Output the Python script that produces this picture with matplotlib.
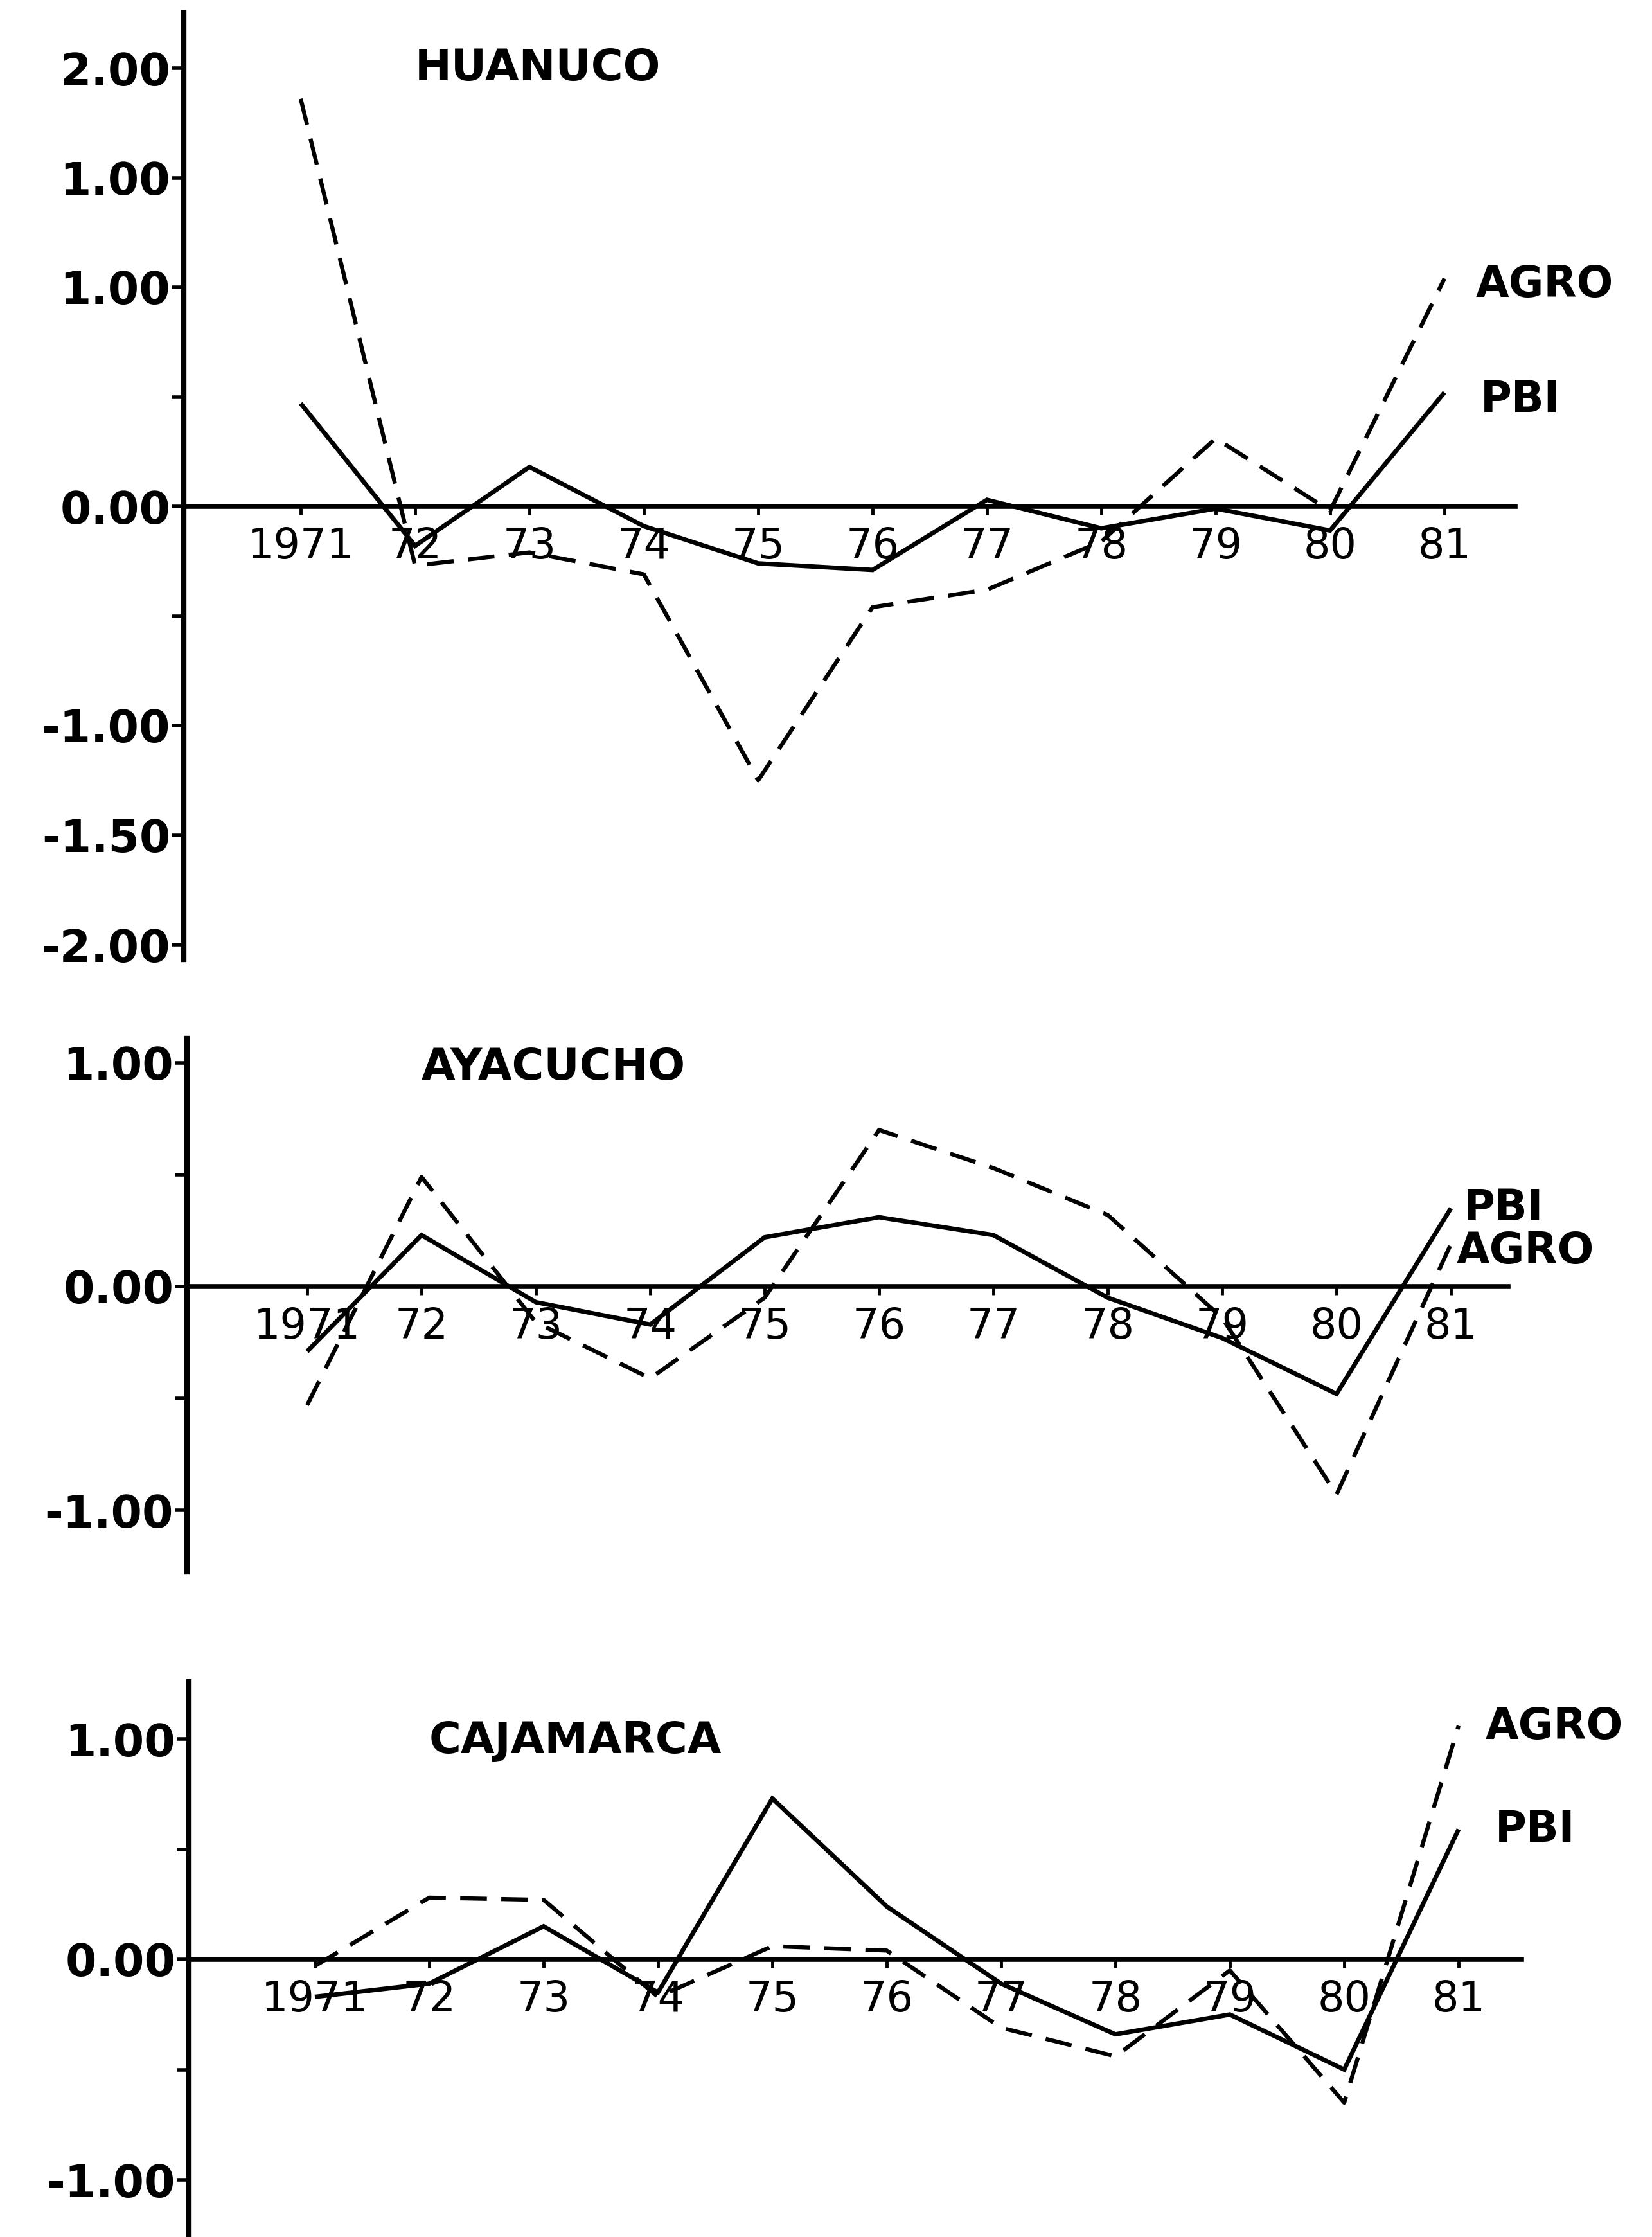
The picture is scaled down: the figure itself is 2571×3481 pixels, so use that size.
import matplotlib
matplotlib.use('Agg')
import matplotlib.pyplot as plt

plt.rcParams['font.family'] = ['DejaVu Sans']

years = ['1971', '72', '73', '74', '75', '76', '77', '78', '79', '80', '81']

huanuco_pbi = [0.47, -0.18, 0.18, -0.09, -0.26, -0.29, 0.03, -0.10, -0.01, -0.11, 0.52]
huanuco_agro = [1.86, -0.27, -0.21, -0.31, -1.25, -0.46, -0.38, -0.16, 0.31, -0.02, 1.04]

ayacucho_pbi = [-0.29, 0.23, -0.07, -0.17, 0.22, 0.31, 0.23, -0.05, -0.23, -0.48, 0.35]
ayacucho_agro = [-0.53, 0.49, -0.16, -0.41, -0.05, 0.70, 0.53, 0.32, -0.14, -0.93, 0.19]

cajamarca_pbi = [-0.17, -0.11, 0.15, -0.15, 0.73, 0.24, -0.11, -0.34, -0.25, -0.50, 0.59]
cajamarca_agro = [-0.03, 0.28, 0.27, -0.17, 0.06, 0.04, -0.31, -0.44, -0.05, -0.65, 1.06]

# the original scan labels 1.50 as "1.00", kept as printed
huanuco_yticks = [2.0, 1.5, 1.0, 0.0, -1.0, -1.5, -2.0]
huanuco_yticklabels = ['2.00', '1.00', '1.00', '0.00', '-1.00', '-1.50', '-2.00']
huanuco_minor = [0.5, -0.5]

small_yticks = [1.0, 0.0, -1.0]
small_yticklabels = ['1.00', '0.00', '-1.00']
small_minor = [0.5, -0.5]

W, H = 2571, 3481
STEP = 178.0  # pixels between years


def draw_panel(fig, spine_x, x0, top, bottom, zero, per_unit, name, title_y,
               pbi, agro, yticks, yticklabels, minor, pbi_off, agro_off, base_end):
    ax = fig.add_axes([spine_x / W, 1 - bottom / H, (W - spine_x) / W, (bottom - top) / H])
    ax.set_xlim((spine_x - x0) / STEP, (W - x0) / STEP)
    ax.set_ylim(-(bottom - zero) / per_unit, (zero - top) / per_unit)

    x = list(range(len(years)))
    ax.plot(x, pbi, color='black', lw=5.0, solid_joinstyle='miter', solid_capstyle='butt')
    ax.plot(x, agro, color='black', lw=4.6, linestyle=(0, (6.5, 3.5)), dash_capstyle='butt')

    for side in ['top', 'right']:
        ax.spines[side].set_visible(False)
    ax.spines['left'].set_linewidth(6.0)
    ax.spines['bottom'].set_position(('data', 0))
    ax.spines['bottom'].set_linewidth(5.5)
    ax.spines['bottom'].set_bounds(ax.get_xlim()[0], base_end)

    ax.set_yticks(yticks)
    ax.set_yticklabels(yticklabels, fontweight='bold')
    ax.set_yticks(minor, minor=True)
    ax.tick_params(axis='y', which='both', direction='out', length=14, width=4,
                   labelsize=50, pad=1)

    ax.set_xticks(x)
    ax.set_xticklabels(years)
    ax.tick_params(axis='x', direction='out', length=9, width=3.5, labelsize=47, pad=13)

    ax.text(1.0, title_y, name, fontsize=49, fontweight='bold', ha='left', va='center')

    ax.annotate('PBI', (x[-1], pbi[-1]), xytext=pbi_off, textcoords='offset points',
                fontsize=48, fontweight='bold', ha='left', va='center')
    ax.annotate('AGRO', (x[-1], agro[-1]), xytext=agro_off, textcoords='offset points',
                fontsize=48, fontweight='bold', ha='left', va='center')
    ax.patch.set_alpha(0)
    return ax


fig = plt.figure(figsize=(W / 100, H / 100), dpi=100)
fig.patch.set_facecolor('white')

draw_panel(fig, 286, 468, 20, 1493, 788, 341, 'HUANUCO', 2.0,
           huanuco_pbi, huanuco_agro, huanuco_yticks, huanuco_yticklabels, huanuco_minor,
           (40, -8), (35, -7), 10.62)

draw_panel(fig, 291, 478, 1616, 2446, 2002, 348, 'AYACUCHO', 0.98,
           ayacucho_pbi, ayacucho_agro, small_yticks, small_yticklabels, small_minor,
           (14, 0), (6, -8), 10.5)

draw_panel(fig, 294, 490, 2617, 3481, 3049, 343, 'CAJAMARCA', 0.99,
           cajamarca_pbi, cajamarca_agro, small_yticks, small_yticklabels, small_minor,
           (41, 0), (30, -1), 10.55)

fig.savefig('out.png', dpi=100, facecolor='white')
